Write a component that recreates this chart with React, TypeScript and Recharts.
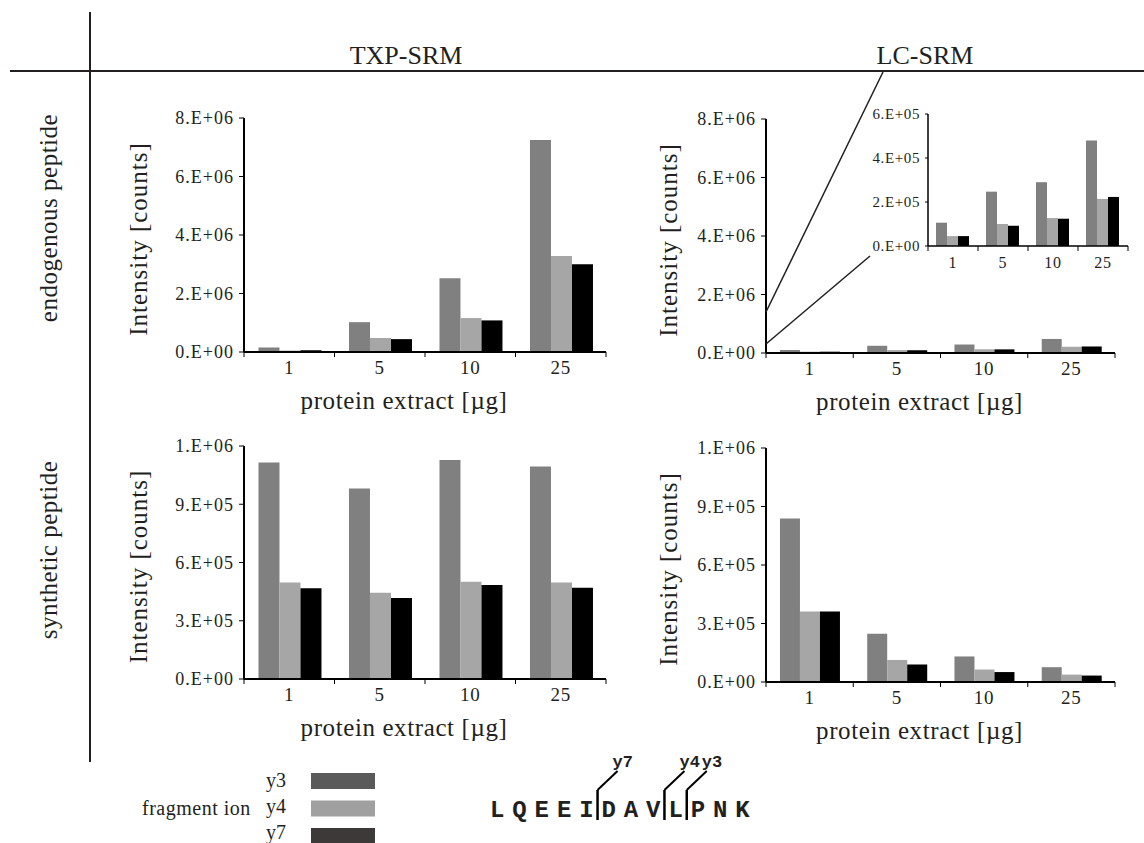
import { BarChart, Bar, XAxis, YAxis } from 'recharts';

const INK = '#231f20';

const doses = ['1', '5', '10', '25'];
const ionNames = ['y3', 'y4', 'y7'];
const ionColors = ['#808080', '#a6a6a6', '#000000'];
const legendColors = ['#5a5a5a', '#a0a0a0', '#3d3939'];

// endogenous peptide, TXP-SRM
const txpEndoY3 = [1.5e5, 1.02e6, 2.52e6, 7.25e6];
const txpEndoY4 = [0.5e5, 4.8e5, 1.16e6, 3.28e6];
const txpEndoY7 = [0.6e5, 4.4e5, 1.08e6, 3.0e6];

// endogenous peptide, LC-SRM (same values in main chart and inset)
const lcEndoY3 = [1.06e5, 2.47e5, 2.9e5, 4.8e5];
const lcEndoY4 = [0.45e5, 1.0e5, 1.27e5, 2.14e5];
const lcEndoY7 = [0.45e5, 0.92e5, 1.24e5, 2.23e5];

// synthetic peptide, TXP-SRM
const txpSynY3 = [1.115e6, 9.81e5, 1.128e6, 1.095e6];
const txpSynY4 = [4.97e5, 4.44e5, 5.01e5, 4.97e5];
const txpSynY7 = [4.67e5, 4.17e5, 4.84e5, 4.7e5];

// synthetic peptide, LC-SRM
const lcSynY3 = [8.38e5, 2.47e5, 1.31e5, 0.76e5];
const lcSynY4 = [3.62e5, 1.13e5, 0.64e5, 0.38e5];
const lcSynY7 = [3.62e5, 0.9e5, 0.51e5, 0.33e5];

const endoTicks = [0, 2e6, 4e6, 6e6, 8e6];
const endoTickLabels = ['0.E+00', '2.E+06', '4.E+06', '6.E+06', '8.E+06'];
const synTicks = [0, 3e5, 6e5, 9e5, 1.2e6];
const synTickLabels = ['0.E+00', '3.E+05', '6.E+05', '9.E+05', '1.E+06'];
const insetTicks = [0, 2e5, 4e5, 6e5];
const insetTickLabels = ['0.E+00', '2.E+05', '4.E+05', '6.E+05'];

const peptide = 'LQEEIDAVLPNK';
const cleavageLabels = ['y7', 'y4', 'y3'];
const cleavageBefore = [5, 8, 9];

// plot areas in page pixels
const TL = { x: 244, y: 118, w: 362, h: 234 };
const TR = { x: 766, y: 119, w: 349, h: 234 };
const BL = { x: 244, y: 446, w: 362, h: 233 };
const BR = { x: 766, y: 448, w: 349, h: 234 };
const INSET = { x: 928, y: 114, w: 200, h: 132 };

type Box = { x: number; y: number; w: number; h: number };

type PanelProps = {
  box: Box;
  s3: number[];
  s4: number[];
  s7: number[];
  ticks: number[];
  tickLabels: string[];
  small?: boolean;
};

function Panel({ box, s3, s4, s7, ticks, tickLabels, small }: PanelProps) {
  const rows = doses.map((d, i) => ({ dose: d, y3: s3[i], y4: s4[i], y7: s7[i] }));
  const padL = small ? 62 : 110;
  const padT = 12;
  const padR = small ? 6 : 14;
  const padB = small ? 30 : 34;
  const band = box.w / doses.length;
  const axisW = small ? 1.5 : 2;

  const CatTick = (p: any) => {
    const left = p.x - band / 2;
    const last = p.index === doses.length - 1;
    return (
      <g>
        <line x1={left} x2={left} y1={p.y} y2={p.y + 5} stroke="#000" strokeWidth={1} />
        {last && <line x1={left + band} x2={left + band} y1={p.y} y2={p.y + 5} stroke="#000" strokeWidth={1} />}
        <text x={p.x} y={p.y + (small ? 22 : 22)} textAnchor="middle" fontSize={small ? 16 : 19} fill={INK} letterSpacing={0.8}>
          {p.payload.value}
        </text>
      </g>
    );
  };

  return (
    <div style={{ position: 'absolute', left: box.x - padL, top: box.y - padT }}>
      <BarChart
        width={box.w + padL + padR}
        height={box.h + padT + padB}
        data={rows}
        margin={{ top: padT, right: padR, bottom: 0, left: 0 }}
        barCategoryGap="16%"
        barGap={0}
      >
        <XAxis
          dataKey="dose"
          interval={0}
          height={padB}
          tickSize={0}
          tickMargin={0}
          tickLine={false}
          axisLine={{ stroke: '#000', strokeWidth: axisW }}
          tick={CatTick}
        />
        <YAxis
          width={padL}
          type="number"
          domain={[0, ticks[ticks.length - 1]]}
          ticks={ticks}
          interval={0}
          tickFormatter={(v: number) => tickLabels[ticks.indexOf(v)] ?? ''}
          tickSize={small ? 3 : 5}
          tickMargin={small ? 5 : 5}
          axisLine={{ stroke: '#000', strokeWidth: axisW }}
          tickLine={{ stroke: '#000', strokeWidth: 1 }}
          tick={{ fontSize: small ? 15 : 18, fill: INK, letterSpacing: small ? 0.6 : 1 }}
        />
        {ionNames.map((n, i) => (
          <Bar key={n} dataKey={n} fill={ionColors[i]} isAnimationActive={false} />
        ))}
      </BarChart>
    </div>
  );
}

const xTitle = (b: Box) => (
  <text x={b.x + b.w / 2 - 21} y={b.y + b.h + 57} textAnchor="middle" fontSize={25} letterSpacing={0.6}>
    protein extract [µg]
  </text>
);

const yTitle = (b: Box, off: number) => {
  const cx = b.x - off;
  const cy = b.y + b.h / 2 + 4;
  return (
    <text transform={`translate(${cx},${cy}) rotate(-90)`} textAnchor="middle" fontSize={25} letterSpacing={1}>
      Intensity [counts]
    </text>
  );
};

export default function App() {
  const step = 22.3;
  const pepX = 490;
  return (
    <div
      style={{
        position: 'fixed',
        left: 0,
        top: 0,
        width: 1144,
        height: 843,
        background: '#fff',
        overflow: 'hidden',
        fontFamily: '"Liberation Serif", serif',
      }}
    >
      <Panel box={TL} s3={txpEndoY3} s4={txpEndoY4} s7={txpEndoY7} ticks={endoTicks} tickLabels={endoTickLabels} />
      <Panel box={TR} s3={lcEndoY3} s4={lcEndoY4} s7={lcEndoY7} ticks={endoTicks} tickLabels={endoTickLabels} />
      <Panel box={BL} s3={txpSynY3} s4={txpSynY4} s7={txpSynY7} ticks={synTicks} tickLabels={synTickLabels} />
      <Panel box={BR} s3={lcSynY3} s4={lcSynY4} s7={lcSynY7} ticks={synTicks} tickLabels={synTickLabels} />
      <Panel box={INSET} s3={lcEndoY3} s4={lcEndoY4} s7={lcEndoY7} ticks={insetTicks} tickLabels={insetTickLabels} small />

      <svg width={1144} height={843} style={{ position: 'absolute', left: 0, top: 0, pointerEvents: 'none' }} fill={INK}>
        {/* frame */}
        <line x1={90} y1={12} x2={90} y2={762} stroke={INK} strokeWidth={2} />
        <line x1={10} y1={71} x2={1144} y2={71} stroke={INK} strokeWidth={2} />
        <text x={406} y={64} textAnchor="middle" fontSize={26}>TXP-SRM</text>
        <text x={925} y={64} textAnchor="middle" fontSize={26}>LC-SRM</text>
        <text transform="translate(57,218) rotate(-90)" textAnchor="middle" fontSize={25} letterSpacing={0.5}>
          endogenous peptide
        </text>
        <text transform="translate(57,550) rotate(-90)" textAnchor="middle" fontSize={25} letterSpacing={0.5}>
          synthetic peptide
        </text>

        {/* axis titles */}
        {xTitle(TL)}
        {xTitle(TR)}
        {xTitle(BL)}
        {xTitle(BR)}
        {yTitle(TL, 97)}
        {yTitle(BL, 97)}
        {yTitle(TR, 89)}
        {yTitle(BR, 89)}

        {/* zoom lines to inset */}
        <line x1={766} y1={312} x2={883} y2={72} stroke={INK} strokeWidth={1.5} />
        <line x1={766} y1={344} x2={870} y2={256} stroke={INK} strokeWidth={1.5} />

        {/* legend */}
        <text x={142} y={815} fontSize={20} letterSpacing={0.5}>fragment ion</text>
        {ionNames.map((n, i) => (
          <g key={n}>
            <text x={266} y={787 + i * 26} fontSize={20}>{n}</text>
            <rect x={311} y={773 + i * 27.5} width={64} height={16} fill={legendColors[i]} />
          </g>
        ))}

        {/* peptide sequence */}
        <text
          x={pepX}
          y={817}
          fontSize={24}
          fontWeight="bold"
          letterSpacing={step - 14.4}
          style={{ fontFamily: '"Liberation Mono", monospace' }}
        >
          {peptide}
        </text>
        {cleavageBefore.map((idx, i) => {
          const sx = pepX + idx * step - (step - 14.4) / 2;
          return (
            <g key={cleavageLabels[i]}>
              <line x1={sx} y1={790} x2={sx} y2={820} stroke="#000" strokeWidth={2.5} />
              <line x1={sx} y1={790} x2={sx + 20} y2={771} stroke="#000" strokeWidth={2} />
              <text
                x={sx + 15}
                y={767}
                fontSize={17}
                fontWeight="bold"
                style={{ fontFamily: '"Liberation Mono", monospace' }}
              >
                {cleavageLabels[i]}
              </text>
            </g>
          );
        })}
      </svg>
    </div>
  );
}
